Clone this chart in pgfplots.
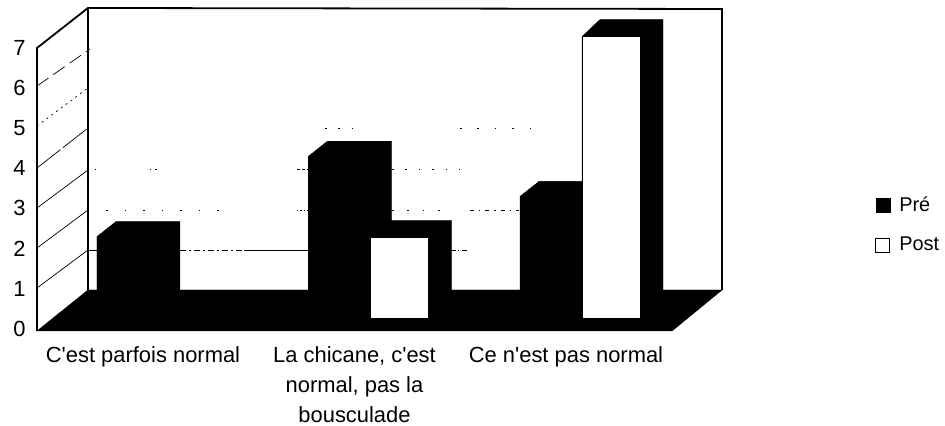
\documentclass[border=0pt]{standalone}
\usepackage{pgfplots}
\pgfplotsset{compat=1.18}
\usepackage{fontspec}
\setmainfont{Liberation Sans}
\begin{document}
\begin{tikzpicture}
\path[use as bounding box] (0,0) rectangle (945bp,426bp);
\begin{axis}[
  at={(37bp,109bp)}, anchor=south west,
  scale only axis, width=635bp, height=281.4bp,
  xmin=-0.5768, xmax=2.4255, ymin=0, ymax=7,
  clip=false,
  axis line style={draw=none},
  tick style={draw=none},
  xtick={0,1,2},
  xticklabels={{C\textquotesingle est parfois normal},{La chicane, c\textquotesingle est\\normal, pas la\\bousculade},{Ce n\textquotesingle est pas normal}},
  ytick={0,1,2,3,4,5,6,7},
  /pgf/number format/assume math mode=true,
  xticklabel style={font=\fontsize{22}{30}\selectfont, align=center, xshift=-16bp, yshift=-26bp},
  yticklabel style={font=\fontsize{22}{26}\selectfont, xshift=-8bp, yshift=-12bp},
  legend style={at={(1.32,0.435)}, anchor=north west, draw=none, fill=none,
    font=\fontsize{20}{24}\selectfont, row sep=20bp, inner sep=0pt},
  legend cell align=left,
]
% walls
\addplot[forget plot, black, line width=1.8pt] coordinates {(-0.5768,-0.348)(-0.5768,6.692)(-0.3357,7.687)(2.662,7.662)(2.662,0.672)};
\addplot[forget plot, black, line width=1.8pt] coordinates {(-0.3357,7.687)(-0.3357,0.672)};
% side wall grid
\addplot[forget plot, black, line width=0.7pt] coordinates {(-0.5768,0.721)(-0.3357,1.667)};
\addplot[forget plot, black, line width=0.7pt] coordinates {(-0.5768,1.716)(-0.3357,2.662)};
\addplot[forget plot, black, line width=0.7pt] coordinates {(-0.5768,2.711)(-0.3357,3.657)};
\addplot[forget plot, black, line width=0.7pt, dash pattern=on 30pt off 3pt] coordinates {(-0.5768,3.706)(-0.3357,4.701)};
\addplot[forget plot, black, line width=0.7pt, dash pattern=on 2pt off 4pt] coordinates {(-0.5768,4.751)(-0.3357,5.697)};
\addplot[forget plot, black, line width=0.7pt, dash pattern=on 14pt off 6pt] coordinates {(-0.5768,5.746)(-0.326,6.667)};
% back wall grid
\addplot[forget plot, black, line width=0.7pt] coordinates {(-0.3357,1.667)(-0.2931,1.667)};
\addplot[forget plot, black, line width=0.7pt, dash pattern=on 6pt off 3pt on 2pt off 3pt] coordinates {(0.0993,1.667)(0.40,1.667)};
\addplot[forget plot, black, line width=0.7pt] coordinates {(0.40,1.667)(0.7092,1.667)};
\addplot[forget plot, black, line width=0.7pt, dash pattern=on 5pt off 2pt on 1pt off 3pt] coordinates {(1.383,1.667)(1.46,1.667)};
\addplot[forget plot, black, line width=0.7pt, dash pattern=on 1.5pt off 17pt] coordinates {(-0.3357,2.662)(0.3357,2.662)};
\addplot[forget plot, black, line width=0.7pt, dash pattern=on 1.5pt off 2pt] coordinates {(0.6525,2.662)(0.7092,2.662)};
\addplot[forget plot, black, line width=0.7pt, dash pattern=on 1.5pt off 14pt] coordinates {(1.1017,2.662)(1.3286,2.662)};
\addplot[forget plot, black, line width=0.7pt, dash pattern=on 4pt off 5pt on 1.5pt off 5pt] coordinates {(1.4704,2.662)(1.7021,2.662)};
\addplot[forget plot, black, line width=0.7pt, dash pattern=on 1.5pt off 7pt] coordinates {(-0.3026,3.682)(-0.28,3.682)};
\addplot[forget plot, black, line width=0.7pt, dash pattern=on 1.5pt off 4pt] coordinates {(-0.0426,3.682)(0.0047,3.682)};
\addplot[forget plot, black, line width=0.7pt, dash pattern=on 3pt off 2pt] coordinates {(0.6525,3.682)(0.7092,3.682)};
\addplot[forget plot, black, line width=0.7pt, dash pattern=on 1.5pt off 12pt] coordinates {(1.1017,3.682)(1.4232,3.682)};
\addplot[forget plot, black, line width=0.7pt, dash pattern=on 1.5pt off 12pt] coordinates {(0.7849,4.701)(0.9504,4.701)};
\addplot[forget plot, black, line width=0.7pt, dash pattern=on 1.5pt off 16pt] coordinates {(1.4232,4.701)(1.8014,4.701)};
% floor
\addplot[forget plot, fill=black, draw=black] coordinates {(-0.5768,-0.348)(-0.3357,0.672)(2.662,0.672)(2.4255,-0.348)} --cycle;
% Pre bodies (top and side)
\addplot[forget plot, fill=black, draw=black] coordinates {(-0.2931,0)(-0.2931,2)(-0.2031,2.373)(0.0993,2.373)(0.0993,0.37)(0,0)} --cycle;
\addplot[forget plot, fill=black, draw=black] coordinates {(0.7069,0)(0.7069,4)(0.7969,4.373)(1.0993,4.373)(1.0993,0.37)(1,0)} --cycle;
\addplot[forget plot, fill=black, draw=black] coordinates {(1.7069,0)(1.7069,3)(1.7969,3.373)(2.0993,3.373)(2.0993,0.37)(2,0)} --cycle;
% Pre fronts
\addplot[ybar, bar width=62bp, bar shift=-31bp, fill=black, draw=black,
  legend image code/.code={\draw[fill=black,draw=black] (0bp,-7bp) rectangle (14bp,7bp); \path (21bp,0bp);}] coordinates {(0,2)(1,4)(2,3)};
\addlegendentry{Pré}
% Post bodies
\addplot[forget plot, yshift=-1bp, fill=black, draw=black] coordinates {(1,0)(1,2)(1.085,2.423)(1.383,2.423)(1.383,0.4)(1.2695,0)} --cycle;
\addplot[forget plot, yshift=-1bp, fill=black, draw=black] coordinates {(2,0)(2,7)(2.085,7.423)(2.383,7.423)(2.383,0.4)(2.2695,0)} --cycle;
% Post fronts
\addplot[ybar, yshift=-1bp, bar width=58bp, bar shift=29bp, fill=white, draw=black, line width=0.8pt,
  legend image code/.code={\draw[fill=white,draw=black,line width=1pt] (0bp,-7bp) rectangle (14bp,7bp); \path (21bp,0bp);}] coordinates {(1,2)(2,7)};
\addlegendentry{Post}
\end{axis}
\end{tikzpicture}
\end{document}
